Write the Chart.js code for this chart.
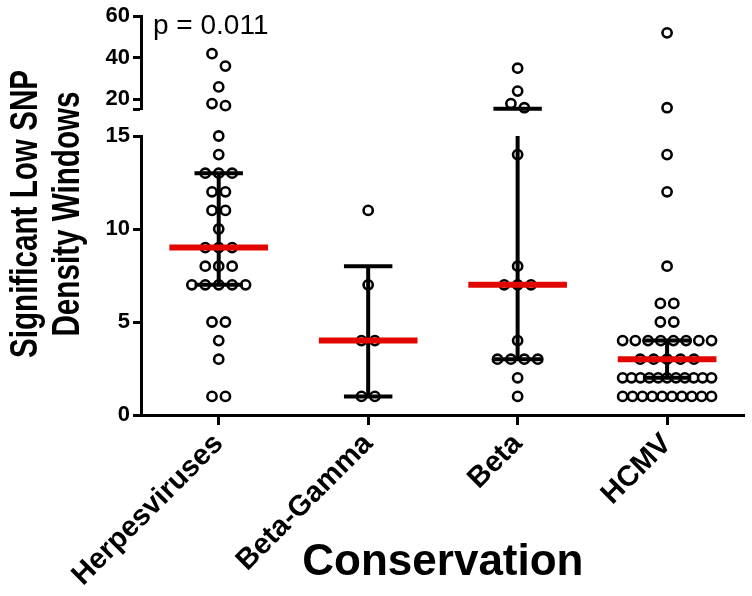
<!DOCTYPE html>
<html>
<head>
<meta charset="utf-8">
<script src="https://cdn.jsdelivr.net/npm/chart.js@4.4.0/dist/chart.umd.min.js"></script>
<style>
  html, body { margin: 0; padding: 0; background: #fff; }
  #wrap { position: relative; width: 752px; height: 596px; }
  #wrap canvas { position: absolute; left: 0; top: 0; }
</style>
</head>
<body>
<div id="wrap">
  <canvas id="lowChart" width="752" height="596"></canvas>
  <canvas id="highChart" width="752" height="126"></canvas>
</div>
<script>
// values
const categories = ['Herpesviruses', 'Beta-Gamma', 'Beta', 'HCMV'];
const herpesviruses = [42, 36, 26, 18, 17, 15, 14, 13, 13, 13, 12, 12, 11, 11, 10, 9, 9, 9, 8, 8, 8, 7, 7, 7, 7, 7, 5, 5, 4, 3, 1, 1];
const betaGamma = [11, 7, 4, 4, 1, 1];
const beta = [35, 24, 18, 16, 14, 8, 7, 7, 7, 4, 3, 3, 3, 3, 2, 1];
const hcmv = [52, 16, 14, 12, 8, 6, 6, 5, 5, 4, 4, 4, 4, 4, 4, 4, 4, 3, 3, 3, 3, 3,
  2, 2, 2, 2, 2, 2, 2, 2, 2, 2, 2, 1, 1, 1, 1, 1, 1, 1, 1, 1, 1];
const medians = [9, 4, 7, 3];
const q1 = [7, 1, 3, 2];
const q3 = [13, 8, 15.5, 4];
const lowTicks = [0, 5, 10, 15];
const highTicks = [15, 20, 40, 60];
const yTitle = ['Significant Low SNP', 'Density Windows'];
const xTitle = 'Conservation';
const pText = 'p = 0.011';

const groups = [herpesviruses, betaGamma, beta, hcmv];
const BREAK = 15;
const RED = '#e10600';
const CAT_PX = 151.3;   // px per category slot
const ROW_STEP = 13.6;  // px between points of one row
const ROW_MAX = 90;     // widest row in px
const CAP = 0.162;      // half width of the error bar caps
const MED = 0.33;       // half width of the median bar

Chart.defaults.font.family = '"Liberation Sans", Arial, Helvetica, sans-serif';
Chart.defaults.color = '#000';

// simple beeswarm: rows of equal values below the break, pairs above it
function swarm(values, ci) {
  const pts = [];
  const rows = {};
  values.filter(v => v <= BREAK).forEach(v => { (rows[v] = rows[v] || []).push(v); });
  Object.keys(rows).forEach(k => {
    const n = rows[k].length;
    const step = Math.min(ROW_STEP, ROW_MAX / Math.max(n - 1, 1)) / CAT_PX;
    for (let i = 0; i < n; i++) pts.push({ x: ci + (i - (n - 1) / 2) * step, y: +k });
  });
  const high = values.filter(v => v > BREAK).sort((a, b) => a - b);
  const half = ROW_STEP / 2 / CAT_PX;
  for (let i = 0; i < high.length; i++) {
    if (i + 1 < high.length && high[i + 1] - high[i] < 6.5) {
      pts.push({ x: ci + half, y: high[i] });
      pts.push({ x: ci - half, y: high[i + 1] });
      i++;
    } else {
      pts.push({ x: ci, y: high[i] });
    }
  }
  return pts;
}

function pointDatasets(inRange) {
  return groups.map((vals, i) => ({
    type: 'scatter',
    label: categories[i],
    data: swarm(vals, i).filter(p => inRange(p.y)),
    pointRadius: 4.6,
    pointBorderWidth: 2.6,
    pointBorderColor: '#000',
    pointBackgroundColor: '#fff',
    clip: false,
    order: 2
  }));
}

function seg(x1, y1, x2, y2, color, width, order) {
  return {
    type: 'line',
    data: [{ x: x1, y: y1 }, { x: x2, y: y2 }],
    borderColor: color,
    borderWidth: width,
    pointRadius: 0,
    fill: false,
    clip: false,
    order: order
  };
}

function summaryDatasets(lo, hi) {
  const out = [];
  categories.forEach((c, i) => {
    const a = Math.max(q1[i], lo), b = Math.min(q3[i], hi);
    if (a < b) out.push(seg(i, a, i, b, '#000', 4, 1));
    [q1[i], q3[i]].forEach(q => {
      if (q >= lo && q <= hi) out.push(seg(i - CAP, q, i + CAP, q, '#000', 4, 1));
    });
    if (medians[i] >= lo && medians[i] <= hi) out.push(seg(i - MED, medians[i], i + MED, medians[i], RED, 6, 0));
  });
  return out;
}

const xBase = {
  type: 'linear',
  min: -0.52,
  max: 3.52,
  afterBuildTicks: s => { s.ticks = categories.map((c, i) => ({ value: i })); }
};

const yTitlePlugin = {
  id: 'yTitle',
  afterDraw(chart) {
    const ctx = chart.ctx;
    ctx.save();
    ctx.translate(27, 214);
    ctx.rotate(-Math.PI / 2);
    ctx.scale(0.78, 1); // the original face is condensed
    ctx.textAlign = 'center';
    ctx.textBaseline = 'middle';
    ctx.fillStyle = '#000';
    ctx.font = 'bold 38px "Liberation Sans", Arial, sans-serif';
    ctx.fillText(yTitle[0], 0, 0);
    ctx.fillText(yTitle[1], 0, 42);
    ctx.restore();
  }
};

const pPlugin = {
  id: 'pValue',
  afterDraw(chart) {
    const ctx = chart.ctx;
    const area = chart.chartArea;
    ctx.save();
    ctx.textAlign = 'left';
    ctx.textBaseline = 'middle';
    ctx.fillStyle = '#000';
    ctx.font = '28px "Liberation Sans", Arial, sans-serif';
    ctx.fillText(pText, area.left + 12, area.top + 10);
    ctx.restore();
  }
};

// lower segment, 0 - 15, with the category axis
new Chart(document.getElementById('lowChart'), {
  type: 'scatter',
  data: { datasets: pointDatasets(v => v <= BREAK).concat(summaryDatasets(0, BREAK)) },
  options: {
    responsive: false,
    animation: false,
    events: [],
    layout: { padding: { top: 136, left: 0, right: 0, bottom: 0 } },
    plugins: { legend: { display: false }, tooltip: { enabled: false } },
    scales: {
      x: Object.assign({}, xBase, {
        ticks: {
          callback: v => categories[v],
          autoSkip: false,
          minRotation: 45,
          maxRotation: 45,
          padding: 2,
          font: { size: 29, weight: 'bold' },
          color: '#000'
        },
        grid: { drawOnChartArea: false, tickLength: 10, tickWidth: 3, color: '#000' },
        border: { display: true, width: 3, color: '#000' },
        title: {
          display: true,
          text: xTitle,
          font: { size: 44, weight: 'bold' },
          color: '#000',
          padding: { top: 0, bottom: 7 }
        },
        afterFit: s => { s.height = 181; }
      }),
      y: {
        min: 0,
        max: BREAK,
        afterBuildTicks: s => { s.ticks = lowTicks.map(v => ({ value: v })); },
        ticks: { font: { size: 22, weight: 'bold' }, color: '#000', padding: 3 },
        grid: { drawOnChartArea: false, tickLength: 8, tickWidth: 3, color: '#000' },
        border: { width: 3, color: '#000' },
        afterFit: s => { s.width = 141; }
      }
    }
  },
  plugins: [yTitlePlugin]
});

// upper segment, 15 - 60
new Chart(document.getElementById('highChart'), {
  type: 'scatter',
  data: { datasets: pointDatasets(v => v > BREAK).concat(summaryDatasets(BREAK, 60)) },
  options: {
    responsive: false,
    animation: false,
    events: [],
    layout: { padding: { top: 12, left: 0, right: 0, bottom: 13 } },
    plugins: { legend: { display: false }, tooltip: { enabled: false } },
    scales: {
      x: Object.assign({}, xBase, { display: false }),
      y: {
        min: BREAK,
        max: 60,
        afterBuildTicks: s => { s.ticks = highTicks.map(v => ({ value: v })); },
        ticks: {
          callback: v => (v === BREAK ? '' : v),
          font: { size: 22, weight: 'bold' },
          color: '#000',
          padding: 3
        },
        grid: { drawOnChartArea: false, tickLength: 8, tickWidth: 3, color: '#000' },
        border: { width: 3, color: '#000' },
        afterFit: s => { s.width = 141; }
      }
    }
  },
  plugins: [pPlugin]
});
</script>
</body>
</html>
